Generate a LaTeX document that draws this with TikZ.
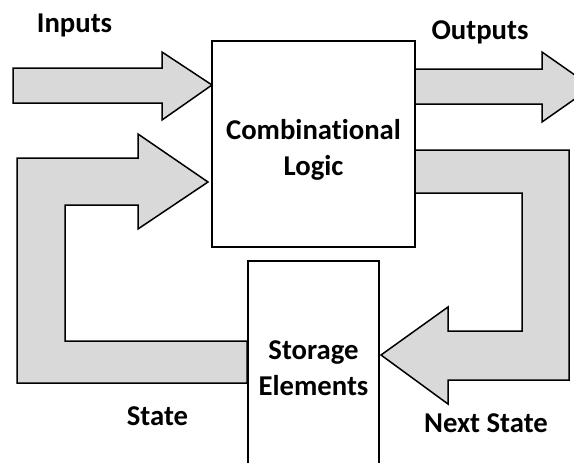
\documentclass[tikz,border=0pt]{standalone}
\usepackage{fontspec}
\setmainfont{Carlito}[Ligatures=NoCommon]
\usepackage{tikz}
\usetikzlibrary{positioning}
\definecolor{arrowgray}{RGB}{217,217,217}

\begin{document}
\begin{tikzpicture}[x=1pt, y=-1pt, line width=1.5pt,
    block/.style={draw, fill=white},
    txt/.style={align=center, font=\bfseries\fontsize{28.7}{36}\selectfont},
    fatarrow/.style={draw, fill=arrowgray, line join=miter},
    lbl/.style={txt, anchor=base}]
    \useasboundingbox (0,0) rectangle (574,463);
    \clip (0,0) rectangle (574,463);

    % Combinational logic and storage blocks
    \node[block, minimum width=203pt, minimum height=206pt] (comb) at (313.5,144) {};
    \node[block, minimum width=131pt, minimum height=218pt] (store) at (313.5,370) {};
    \node[txt] (combtxt) at ([yshift=-6pt]comb.center) {Combinational\\Logic};
    \node[txt] (storetxt) at ([yshift=2pt]store.center) {Storage\\Elements};

    % Inputs / outputs
    \draw[fatarrow] (13,68) -- (162,68) -- (162,52) -- (212,85) -- (162,120) -- (162,103) -- (13,103) -- cycle;
    \draw[fatarrow] (415,69) -- (542,69) -- (542,52) -- (592,87) -- (542,122) -- (542,104) -- (415,104) -- cycle;

    % Next state: logic -> storage
    \draw[fatarrow] (415,150) -- (569,150) -- (569,380) -- (448,380) -- (448,404) -- (381,355)
        -- (448,307) -- (448,331) -- (522,331) -- (522,193) -- (415,193) -- cycle;

    % State: storage -> logic
    \draw[fatarrow] (247,383) -- (17,383) -- (17,158) -- (138,158) -- (138,134) -- (208,182)
        -- (138,229) -- (138,205) -- (65,205) -- (65,341) -- (247,341) -- cycle;

    % Labels
    \node[lbl] (inlbl) at (74.5,32) {Inputs};
    \node[lbl] (outlbl) at (480,39) {Outputs};
    \node[lbl] (statelbl) at (157.5,425) {State};
    \node[lbl] (nextlbl) at (486,432) {Next State};
\end{tikzpicture}
\end{document}
